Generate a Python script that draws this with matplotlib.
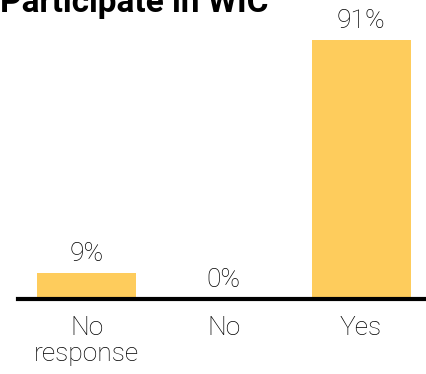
import matplotlib
matplotlib.use("Agg")
import matplotlib.pyplot as plt

# Chart data
categories = ["No\nresponse", "No", "Yes"]
values = [9, 0, 91]
labels = ["9%", "0%", "91%"]

BAR_COLOR = "#FECC5C"

plt.rcParams["font.family"] = ["Roboto", "DejaVu Sans"]

fig = plt.figure(figsize=(4.27, 3.74), dpi=100)
ax = fig.add_axes([18 / 427, 75 / 374, 409 / 427, 299 / 374])

x = list(range(len(categories)))
bars = ax.bar(x, values, width=0.72, color=BAR_COLOR, zorder=2)

# value labels above each bar
for xi, v, lab in zip(x, values, labels):
    ax.annotate(lab, (xi, v), xytext=(0, 5), textcoords="offset points",
                ha="center", va="bottom", fontsize=19, fontweight="light",
                color="black")

ax.set_xlim(-0.5, 2.48)
ax.set_ylim(0, 105)
ax.set_xticks(x)
ax.set_xticklabels(categories, fontsize=19, fontweight="light", color="black",
                   linespacing=1.12)
ax.tick_params(axis="x", length=0, pad=12)
ax.set_yticks([])
for side in ["top", "right", "left"]:
    ax.spines[side].set_visible(False)
ax.spines["bottom"].set_linewidth(3)
ax.spines["bottom"].set_color("black")
ax.spines["bottom"].set_zorder(3)

# title, cut off at the top of the image as in the original
fig.text(0.0, 1 - 12 / 374, "Participate in WIC", ha="left", va="baseline",
         fontsize=24, fontweight="bold", color="black")

fig.savefig("out.png", dpi=100)
